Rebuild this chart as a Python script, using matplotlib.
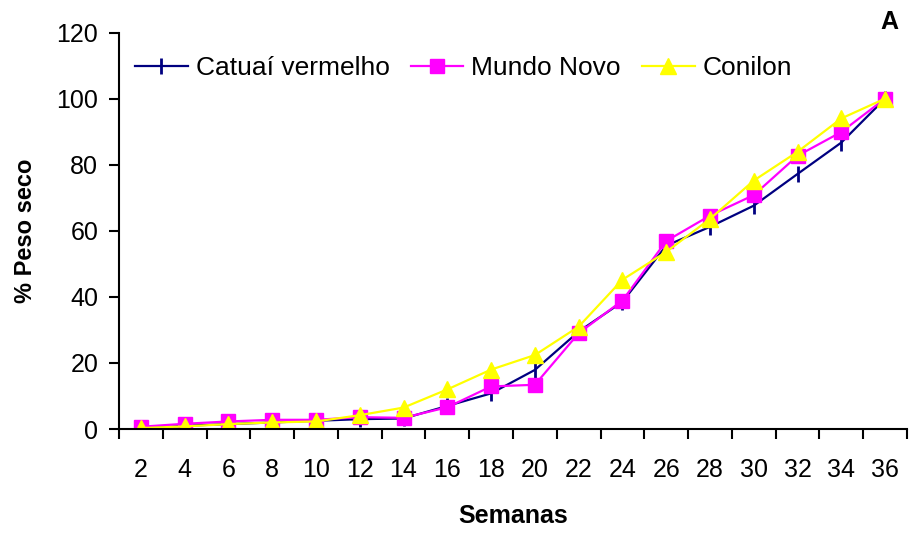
import numpy as np
from matplotlib import pyplot as plt
from matplotlib.ticker import FixedLocator

plt.rcParams['font.family'] = ['Liberation Sans', 'DejaVu Sans']

semanas = [2, 4, 6, 8, 10, 12, 14, 16, 18, 20, 22, 24, 26, 28, 30, 32, 34, 36]
catuai = [0.2, 1.0, 1.5, 2.0, 2.5, 3.0, 3.2, 7.0, 10.8, 17.9, 29.5, 38.5, 55.5, 61.2, 67.6, 77.2, 86.7, 100]
mundo_novo = [0.7, 1.6, 2.3, 2.8, 2.8, 3.6, 3.4, 6.6, 12.9, 13.4, 29.0, 38.9, 56.9, 64.6, 70.8, 82.7, 89.9, 100]
conilon = [0.3, 0.8, 1.5, 2.0, 2.3, 4.2, 6.5, 12.0, 18.0, 22.4, 31.0, 45.2, 53.6, 63.6, 75.2, 83.9, 94.0, 100]

fig = plt.figure(figsize=(9.12, 5.33), dpi=100)
ax = fig.add_axes([0.1305, 0.195, 0.864, 0.744])

x = np.arange(len(semanas))
ax.plot(x, catuai, color='#000080', lw=1.6, marker='|', ms=11, mew=2,
        label='Catuaí vermelho')
ax.plot(x, mundo_novo, color='#FF00FF', lw=1.6, marker='s', ms=10,
        label='Mundo Novo')
ax.plot(x, conilon, color='#FFFF00', lw=1.6, marker='^', ms=11,
        label='Conilon')

ax.set_xlim(-0.5, len(semanas) - 0.5)
ax.set_ylim(0, 120)
ax.set_yticks(range(0, 121, 20))
ax.set_xticks(x)
ax.set_xticklabels([str(s) for s in semanas])
ax.xaxis.set_minor_locator(FixedLocator(np.arange(-0.5, len(semanas), 1)))
ax.tick_params(axis='x', which='major', length=0, pad=21, labelsize=18)
ax.tick_params(axis='x', which='minor', length=7, width=1.5, direction='out')
ax.tick_params(axis='y', length=7, width=1.5, pad=8, labelsize=18)

for s in ['top', 'right']:
    ax.spines[s].set_visible(False)
for s in ['left', 'bottom']:
    ax.spines[s].set_linewidth(1.5)

ax.set_xlabel('Semanas', fontsize=18, fontweight='bold', labelpad=16)
ax.set_ylabel('% Peso seco', fontsize=17, fontweight='bold', labelpad=14)

ax.legend(loc='upper left', bbox_to_anchor=(0.0, 0.98), ncol=3, frameon=False,
          fontsize=19, handlelength=2.0, handletextpad=0.3, columnspacing=0.8,
          borderaxespad=0.2)

fig.text(0.975, 0.959, 'A', fontsize=18, fontweight='bold', ha='center', va='center')

fig.savefig('out.png', dpi=100)
